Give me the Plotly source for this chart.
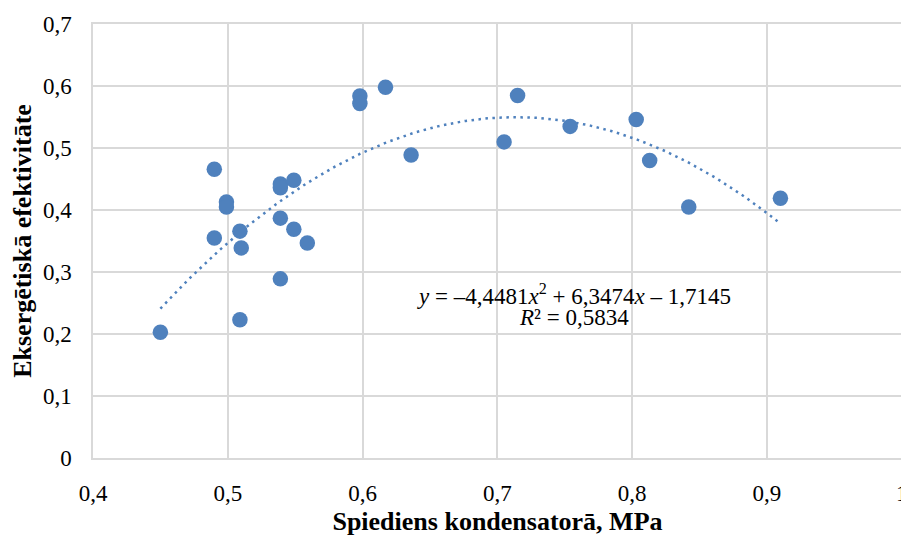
import numpy as np
import plotly.graph_objects as go

# Data
pressure = [0.450, 0.490, 0.490, 0.499, 0.499, 0.509, 0.510, 0.509, 0.539, 0.539,
            0.539, 0.539, 0.549, 0.549, 0.559, 0.598, 0.598, 0.617, 0.636, 0.705,
            0.715, 0.754, 0.803, 0.813, 0.842, 0.910]
efficiency = [0.203, 0.466, 0.355, 0.413, 0.405, 0.366, 0.339, 0.223, 0.442, 0.436,
              0.387, 0.289, 0.448, 0.369, 0.347, 0.584, 0.572, 0.598, 0.489, 0.510,
              0.585, 0.535, 0.546, 0.480, 0.405, 0.419]

# Polynomial trendline coefficients (as shown on chart)
trend_coef = [-4.4481, 6.3474, -1.7145]
r_squared = "0,5834"

x_ticks = [0.4, 0.5, 0.6, 0.7, 0.8, 0.9, 1.0]
x_ticklabels = ["0,4", "0,5", "0,6", "0,7", "0,8", "0,9", "1"]
y_ticks = [0, 0.1, 0.2, 0.3, 0.4, 0.5, 0.6, 0.7]
y_ticklabels = ["0", "0,1", "0,2", "0,3", "0,4", "0,5", "0,6", "0,7"]

x_title = "Spiediens kondensatorā, MPa"
y_title = "Eksergētiskā efektivitāte"

blue = "#4F81BD"
grid = "#D9D9D9"
font = "Liberation Serif"

tx = np.linspace(min(pressure), max(pressure), 200)
ty = np.polyval(trend_coef, tx)

fig = go.Figure()
fig.add_trace(go.Scatter(
    x=tx, y=ty, mode="lines",
    line=dict(color=blue, width=2.5, dash="2.5px,4.5px"),
    hoverinfo="skip", showlegend=False))
fig.add_trace(go.Scatter(
    x=pressure, y=efficiency, mode="markers",
    marker=dict(color=blue, size=15.5, line=dict(width=0)),
    showlegend=False))

fig.add_annotation(
    x=0.757, y=0.263, xref="x", yref="y", showarrow=False,
    text="<i>y</i> = –4,4481<i>x</i><sup>2</sup> + 6,3474<i>x</i> – 1,7145",
    font=dict(family=font, size=23, color="#000000"))
fig.add_annotation(
    x=0.757, y=0.226, xref="x", yref="y", showarrow=False,
    text="<i>R</i>² = " + r_squared,
    font=dict(family=font, size=23, color="#000000"))

fig.update_layout(
    width=901, height=528,
    margin=dict(l=85, r=7, t=16, b=78, autoexpand=False),
    paper_bgcolor="white", plot_bgcolor="white",
    font=dict(family=font, size=23, color="#000000"),
)
fig.update_xaxes(
    range=[0.4, 1.0002], tickvals=x_ticks, ticktext=x_ticklabels,
    showgrid=True, gridcolor=grid, gridwidth=1.5,
    showline=True, linecolor=grid, linewidth=1.5, mirror=True,
    zeroline=False, ticks="", ticklabelstandoff=14, automargin=False,
    title=dict(text="<b>" + x_title + "</b>", font=dict(family=font, size=26), standoff=10),
)
fig.update_yaxes(
    range=[0, 0.7002], tickvals=y_ticks, ticktext=y_ticklabels,
    showgrid=True, gridcolor=grid, gridwidth=1.5,
    showline=True, linecolor=grid, linewidth=1.5, mirror=True,
    zeroline=False, ticks="", ticklabelstandoff=15, automargin=False,
    title=dict(text="<b>" + y_title + "</b>", font=dict(family=font, size=26), standoff=12),
)

fig.write_html("out.html")
